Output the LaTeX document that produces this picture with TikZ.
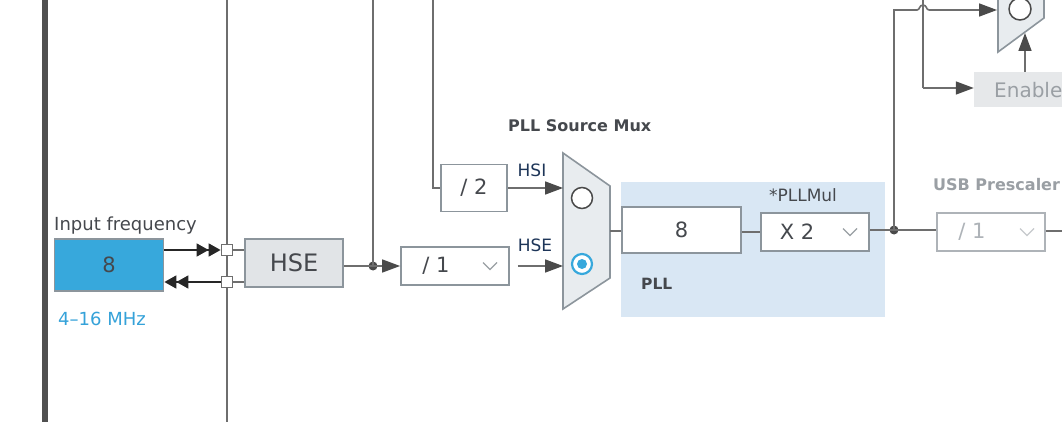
\documentclass[tikz,border=0pt]{standalone}
\usepackage{fontspec}
\setmainfont{DejaVu Sans}
\usetikzlibrary{arrows.meta}
\definecolor{lnc}{HTML}{6E6E6E}
\definecolor{bdc}{HTML}{8C959C}
\definecolor{arc}{HTML}{4A4A4A}
\definecolor{inblue}{HTML}{37A8DC}
\definecolor{txtc}{HTML}{45484D}
\definecolor{navy}{HTML}{1D3558}
\definecolor{lgt}{HTML}{9A9FA4}
\definecolor{lgt2}{HTML}{AEB3B8}
\definecolor{pllbg}{HTML}{D9E7F4}
\definecolor{muxc}{HTML}{E8ECEF}
\definecolor{hsefill}{HTML}{E1E4E7}
\definecolor{enfill}{HTML}{E6E8EA}
\definecolor{barc}{HTML}{505050}
\definecolor{blueTxt}{HTML}{35A2D9}
\begin{document}
\begin{tikzpicture}[x=1pt,y=-1pt,
  ln/.style={draw=lnc,line width=1.6pt},
  arrowln/.style={ln,-{Triangle[length=18pt,width=13pt,fill=arc,color=arc]}},
  dblr/.style={draw=black!85,line width=1.6pt,-{Triangle[length=12pt,width=13pt]Triangle[length=12pt,width=13pt]}},
  boxs/.style={draw=bdc,line width=1.8pt,fill=white,inner sep=0pt,text=txtc},
  sq/.style={draw=lnc,line width=1.3pt,fill=white,minimum size=11.5pt,inner sep=0pt},
  txt/.style={inner sep=0pt,text=txtc},
  fsz/.style={font=\fontsize{#1}{#1}\selectfont},
  chev/.pic={\draw[draw=#1,line width=1.2pt] (-7,-3.5) -- (0,3.5) -- (7,-3.5);},
  dot/.style={circle,fill=arc,inner sep=0pt,minimum size=9pt}]
\useasboundingbox (0,0) rectangle (1062,422);
\clip (0,0) rectangle (1062,422);
\fill[white] (0,0) rectangle (1062,422);
% left bar and long verticals
\fill[barc] (42,0) rectangle (48,422);
\coordinate (v1t) at (227,0);
\coordinate (v1b) at (227,422);
\draw[ln] (v1t) -- (v1b);
% input frequency
\node[txt,fsz=18,anchor=west] (inlab) at (54,226) {Input frequency};
\node[boxs,fill=inblue,minimum width=109pt,minimum height=52pt,fsz=21] (in) at (109,265) {8};
\node[txt,fsz=18,text=blueTxt,anchor=west] (range) at (58,319) {4–16 MHz};
\node[sq] (s1) at (227,250) {};
\node[sq] (s2) at (227,282) {};
\draw[dblr] (in.east|-s1) -- (s1.west);
\draw[dblr] (s2.west) -- (in.east|-s2);
% HSE box
\node[boxs,fill=hsefill,minimum width=98pt,minimum height=48pt,fsz=24] (hse) at (294,263) {HSE};
\draw[ln] (s1.east) -- (hse.west|-s1);
\draw[ln] (s2.east) -- (hse.west|-s2);
% junction and /1
\node[dot] (j1) at (373,266) {};
\coordinate (v2t) at (373,0);
\draw[ln] (v2t) -- (j1.center);
\node[boxs,minimum width=108pt,minimum height=38pt] (div1) at (455,266) {};
\node[txt,fsz=21] (div1t) at (436,266) {/ 1};
\pic at (490,266) {chev=lgt};
\draw[ln] (hse.east|-j1) -- (j1.center);
\draw[arrowln] (j1.center) -- (div1.west);
% /2
\node[boxs,minimum width=66pt,minimum height=47pt,fsz=21] (div2) at (474,188) {/ 2};
\coordinate (v3t) at (433,0);
\draw[ln] (v3t) |- (div2.west);
% PLL source mux
\coordinate (mA) at (563,153);
\coordinate (mB) at (610,186);
\coordinate (mC) at (610,278);
\coordinate (mD) at (563,309);
\draw[draw=bdc,line width=1.6pt,fill=muxc] (mA) -- (mB) -- (mC) -- (mD) -- cycle;
\node[circle,draw=arc,line width=1.5pt,fill=white,minimum size=21pt,inner sep=0pt] (csi) at (582,198) {};
\node[circle,draw=inblue,line width=2.2pt,fill=white,minimum size=20pt,inner sep=0pt] (cse) at (582,264) {};
\node[circle,fill=inblue,minimum size=10pt,inner sep=0pt] (cse2) at (cse.center) {};
\node[txt,font=\bfseries\fontsize{16}{16}\selectfont,anchor=west] (muxlab) at (508,126) {PLL Source Mux};
\coordinate (minS) at (563,188);
\coordinate (minE) at (563,266);
\coordinate (d1out) at ([xshift=8pt]div1.east);
\draw[arrowln] (div2.east) -- (minS);
\draw[arrowln] (d1out) -- (minE);
\node[txt,fsz=17,text=navy] (hsil) at (532,170) {HSI};
\node[txt,fsz=17,text=navy] (hsel) at (535,245) {HSE};
% PLL block
\node[fill=pllbg,minimum width=264pt,minimum height=135pt,inner sep=0pt] (pll) at (753,249.5) {};
\node[boxs,minimum width=119pt,minimum height=46pt,fsz=21] (p8) at (681.5,230) {8};
\node[boxs,minimum width=108pt,minimum height=38pt] (mul) at (815,232) {};
\node[txt,fsz=21] (mult) at (797,232) {X 2};
\pic at (850,232) {chev=lgt};
\node[txt,fsz=17] (mullab) at (803,195) {*PLLMul};
\node[txt,font=\bfseries\fontsize{15.5}{16}\selectfont,anchor=west] (plllab) at (641,284) {PLL};
\coordinate (mout) at (610,231);
\draw[ln] (mout) -- (p8.west|-mout);
\draw[ln] (p8.east|-mul) -- (mul.west);
% USB prescaler
\node[dot] (j2) at (894,230) {};
\node[boxs,draw=lgt2,minimum width=108pt,minimum height=38pt] (usb) at (991,232) {};
\node[txt,fsz=21,text=lgt2] (usbt) at (972,232) {/ 1};
\pic at (1027,232) {chev=lgt2!70};
\node[txt,font=\bfseries\fontsize{16}{16}\selectfont,text=lgt,anchor=west] (usblab) at (933,185) {USB Prescaler};
\coordinate (usbout) at (1062,231);
\draw[ln] (mul.east|-j2) -- (j2.center) -- (usb.west|-j2);
\draw[ln] (usb.east|-usbout) -- (usbout);
% top right mux and enable
\coordinate (nA) at (998,-10);
\coordinate (nB) at (1044,-10);
\coordinate (nC) at (1044,18);
\coordinate (nD) at (998,52);
\draw[draw=bdc,line width=1.6pt,fill=muxc] (nA) -- (nB) -- (nC) -- (nD) -- cycle;
\node[circle,draw=arc,line width=1.5pt,fill=white,minimum size=22pt,inner sep=0pt] (c3) at (1020,9) {};
\node[fill=enfill,minimum width=110pt,minimum height=35pt,inner sep=0pt] (en) at (1029,89.5) {};
\node[txt,fsz=20,text=lgt,anchor=west] (ent) at (994,90) {Enable};
\coordinate (v4t) at (923,0);
\coordinate (v4b) at (923,88);
\draw[ln] (v4t) -- (v4b);
\draw[arrowln] (v4b) -- (en.west|-v4b);
\coordinate (n2in) at (997,10);
\coordinate (hopL) at (917,10);
\coordinate (hopR) at (929,10);
\draw[ln] (j2.center) |- (hopL) .. controls (920,10) and (919,5) .. (923,5) .. controls (927,5) and (926,10) .. (hopR);
\draw[arrowln] (hopR) -- (n2in);
\coordinate (ensel) at (1025,33);
\draw[arrowln] (en.north-|ensel) -- (ensel);
\end{tikzpicture}
\end{document}
